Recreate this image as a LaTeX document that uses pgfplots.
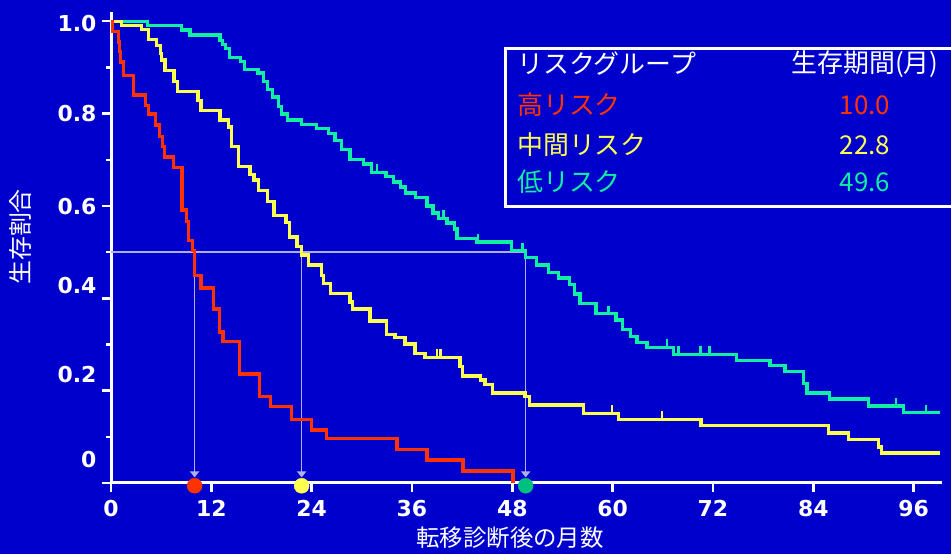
\documentclass[border=0pt]{standalone}
\usepackage{fontspec}
\usepackage{pgfplots}
\pgfplotsset{compat=1.18}
\usetikzlibrary{arrows.meta}
\setmainfont{DejaVu Sans}
\newfontfamily\jp{Noto Sans CJK JP}

\definecolor{bg}{HTML}{0000CC}
\definecolor{hired}{HTML}{FF3300}
\definecolor{midyel}{HTML}{FFFF50}
\definecolor{lowgrn}{HTML}{10F0A0}
\definecolor{lowdot}{HTML}{00C080}
\definecolor{refl}{HTML}{AEB0EE}

% censoring tick: a short stroke pointing up from the curve
\pgfdeclareplotmark{censor}{%
  \pgfpathmoveto{\pgfqpoint{0pt}{0pt}}%
  \pgfpathlineto{\pgfqpoint{0pt}{\pgfplotmarksize}}%
  \pgfusepathqstroke}

\begin{document}
\begin{tikzpicture}[x=1bp,y=1bp]
\fill[bg] (0,0) rectangle (951,554);
\path[use as bounding box] (0,0) rectangle (951,554);
\clip (0,0) rectangle (951,554);

\begin{axis}[
  at={(111bp,71bp)}, anchor=south west, scale only axis,
  width=831bp, height=471bp,
  xmin=0, xmax=99.4, ymin=0, ymax=1.02,
  axis x line=bottom, axis y line=left,
  axis line style={white, line width=3bp, -},
  tick style={white, line width=2.5bp},
  tick align=outside,
  xtick pos=bottom, ytick pos=left,
  major tick length=9bp, minor tick length=5bp,
  xtick={0,12,24,36,48,60,72,84,96},
  xticklabels={0,12,24,36,48,60,72,84,96},
  ytick={0,0.2,0.4,0.6,0.8,1.0}, yticklabels={},
  minor ytick={0.1,0.3,0.5,0.7,0.9},
  extra y ticks={0.05,0.235,0.427,0.598,0.8,0.995},
  extra y tick labels={0,0.2,0.4,0.6,0.8,1.0},
  extra y tick style={major tick length=0pt, tick style={draw=none},
    yticklabel style={xshift=-11bp}},
  ticklabel style={white, font=\bfseries\fontsize{22}{26}\selectfont},
  xticklabel style={yshift=-5bp},
  /pgf/number format/assume math mode=true,
  clip=false,
]

% median reference lines
\addplot[refl, line width=1.8bp] coordinates {(0,0.5) (49.6,0.5)};
\addplot[refl, line width=1.6bp, -{Triangle[width=9bp,length=6bp]}] coordinates {(10.0,0.5) (10.0,0.012)};
\addplot[refl, line width=1.6bp, -{Triangle[width=9bp,length=6bp]}] coordinates {(22.8,0.5) (22.8,0.012)};
\addplot[refl, line width=1.6bp, -{Triangle[width=9bp,length=6bp]}] coordinates {(49.6,0.5) (49.6,0.012)};

% low risk
\addplot[const plot, lowgrn, line width=3.3bp] coordinates {
(0,1.000)(4.4,0.991)(8.4,0.981)(9.45,0.970)(13.04,0.959)(13.3,0.950)(13.7,0.941)
(14.2,0.921)(15.5,0.913)(16.0,0.896)(17.6,0.888)(18.2,0.869)(18.7,0.852)(19.3,0.836)
(20.0,0.815)(20.4,0.799)(21.1,0.786)(22.8,0.777)(24.6,0.768)(26.0,0.757)(26.8,0.742)
(27.6,0.722)(28.6,0.700)(30.2,0.691)(31.2,0.673)(32.9,0.664)(33.8,0.652)(34.6,0.641)
(35.2,0.628)(36.4,0.619)(37.8,0.600)(38.5,0.585)(39.15,0.573)(40.2,0.563)(41.1,0.550)
(41.4,0.530)(43.7,0.522)(47.9,0.503)(49.6,0.488)(50.92,0.472)(52.3,0.456)(53.5,0.444)
(54.8,0.430)(55.4,0.409)(56.1,0.389)(58.0,0.367)(60.4,0.353)(61.2,0.332)(62.1,0.317)
(62.9,0.304)(64.1,0.294)(67.26,0.279)(74.84,0.266)(78.83,0.255)(80.62,0.241)
(82.81,0.216)(83.25,0.195)(85.97,0.182)(90.59,0.167)(94.8,0.152)(99.2,0.152)};

% intermediate risk
\addplot[const plot, midyel, line width=3.3bp] coordinates {
(0,1.000)(1.28,0.991)(3.67,0.982)(4.46,0.961)(5.47,0.948)(5.94,0.930)(6.06,0.916)
(6.46,0.894)(7.54,0.869)(7.95,0.848)(10.4,0.828)(10.77,0.807)(13.04,0.786)(14.03,0.771)
(14.41,0.729)(15.23,0.685)(16.63,0.668)(17.1,0.656)(17.64,0.634)(18.72,0.609)(19.5,0.580)
(20.93,0.564)(21.35,0.533)(22.25,0.512)(22.8,0.494)(23.6,0.472)(25.2,0.450)(25.4,0.432)
(26.28,0.411)(28.6,0.392)(28.86,0.377)(30.98,0.351)(32.98,0.322)(33.97,0.315)(35.17,0.301)
(36.36,0.281)(37.56,0.272)(41.75,0.252)(42.07,0.232)(44.22,0.223)(44.74,0.214)(45.66,0.195)
(49.52,0.187)(50.04,0.169)(56.5,0.151)(60.68,0.138)(70.57,0.124)(85.8,0.108)(88.2,0.094)
(91.78,0.078)(92.19,0.065)(99.2,0.065)};

% high risk
\addplot[const plot, hired, line width=3.3bp] coordinates {
(0,1.000)(0.2,0.977)(0.9,0.955)(1.0,0.935)(1.15,0.912)(1.5,0.883)(2.67,0.840)(4.1,0.818)
(4.5,0.799)(5.3,0.775)(5.8,0.750)(6.2,0.728)(6.4,0.706)(7.46,0.683)(8.5,0.591)(9.05,0.566)
(9.25,0.525)(9.75,0.503)(10.0,0.450)(10.77,0.422)(12.3,0.377)(13.0,0.327)(13.4,0.307)
(15.4,0.236)(17.8,0.187)(19.1,0.165)(21.6,0.138)(24.0,0.115)(25.8,0.097)(34.2,0.073)
(37.8,0.050)(42.1,0.026)(48.1,0.000)};

% censored observations
\addplot[only marks, mark=censor, mark size=8bp, lowgrn, line width=2.5bp] coordinates {
(31.8,0.673)(39.8,0.573)(43.9,0.522)(49.2,0.503)(59.5,0.367)(66.5,0.294)(67.9,0.279)
(70.5,0.279)(71.6,0.279)(93.9,0.167)(97.5,0.152)};
\addplot[only marks, mark=censor, mark size=8bp, midyel, line width=2.5bp] coordinates {
(39.0,0.272)(39.4,0.272)(59.9,0.151)(65.9,0.138)};

% median survival markers on the time axis
\addplot[only marks, mark=*, mark size=7.5bp, hired] coordinates {(10.0,-0.006)};
\addplot[only marks, mark=*, mark size=7.5bp, midyel] coordinates {(22.8,-0.006)};
\addplot[only marks, mark=*, mark size=7.5bp, lowdot] coordinates {(49.6,-0.006)};
\end{axis}

% axis titles
\node[rotate=90, white, font=\jp\fontsize{24}{28}\selectfont] at (20,317) {生存割合};
\node[white, font=\jp\fontsize{23.5}{27}\selectfont] at (510,16) {転移診断後の月数};

% legend table
\draw[white, line width=3bp] (951,505) -- (505,505) -- (505,347) -- (951,347);
\begin{scope}[every node/.style={inner sep=0pt, font=\jp\fontsize{26}{30}\selectfont}]
\node[anchor=west, white]  at (517,490) {リスクグループ};
\node[anchor=west, hired]  at (517,449) {高リスク};
\node[anchor=west, midyel] at (517,409) {中間リスク};
\node[anchor=west, lowgrn] at (517,372) {低リスク};
\node[white]  at (865,490) {生存期間(月)};
\node[hired]  at (865,449) {10.0};
\node[midyel] at (865,409) {22.8};
\node[lowgrn] at (865,372) {49.6};
\end{scope}
\end{tikzpicture}
\end{document}
